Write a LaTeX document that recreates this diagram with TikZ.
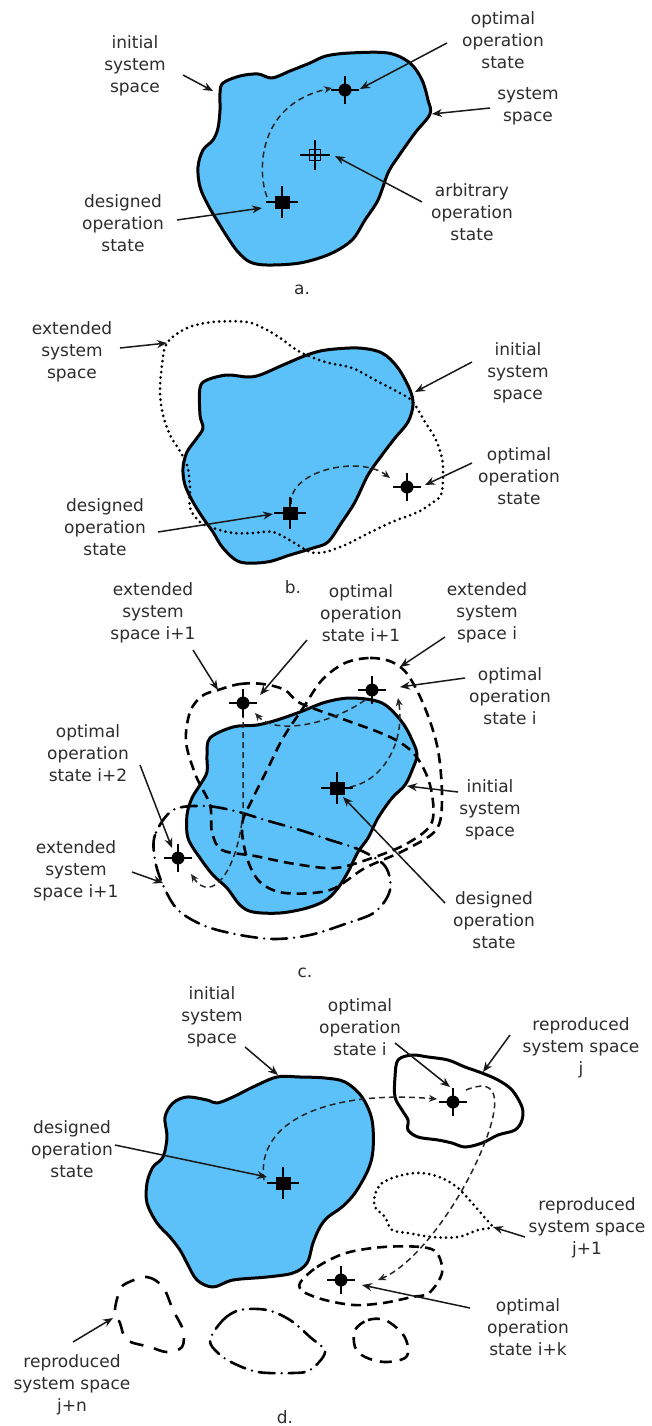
\documentclass[tikz,border=0pt]{standalone}
\usepackage{fontspec}
\setmainfont{DejaVu Sans}
\usetikzlibrary{arrows.meta}
\definecolor{skyb}{RGB}{92,193,248}
\definecolor{txtg}{RGB}{45,45,45}
\tikzset{
  blob/.style={draw=black,line width=3pt,fill=skyb,line join=round},
  lbl/.style={text=txtg,align=center,inner sep=0pt,font=\fontsize{17}{22}\selectfont},
  arr/.style={draw=black!90,line width=1.5pt,-{Stealth[length=10pt,width=8pt]}},
  trail/.style={draw=black!85,line width=1.5pt,dash pattern=on 6pt off 4pt},
  trailarr/.style={trail,-{Stealth[length=8pt,width=7pt]}},
  extd/.style={draw=black,line width=2.6pt,dash pattern=on 10pt off 6pt},
  extdot/.style={draw=black,line width=3pt,line cap=round,dash pattern=on 0pt off 5.5pt},
  extdd/.style={draw=black,line width=2.6pt,line cap=round,dash pattern=on 16pt off 7pt on 0pt off 7pt},
  solidout/.style={draw=black,line width=3pt,line join=round},
  optmark/.pic={\fill[black] (0,0) circle[radius=6.5pt]; \draw[line width=1.6pt] (-14,0)--(14,0) (0,-14)--(0,14);},
  desmark/.pic={\fill[black] (-7.5,-6.5) rectangle (7.5,6.5); \draw[line width=1.6pt] (-16,0)--(16,0) (0,-16)--(0,16);},
  arbmark/.pic={\draw[line width=1.4pt] (-5.5,-5.5) rectangle (5.5,5.5) (-15,0)--(15,0) (0,-15)--(0,15);},
}
\begin{document}
\begin{tikzpicture}[x=1pt,y=-1pt]
\useasboundingbox (0,0) rectangle (651,1426);
\fill[white] (0,0) rectangle (651,1426);

% ================= panel a =================
\path[blob] plot[smooth cycle,tension=0.55] coordinates {(223,83) (240,76) (258,74) (272,78) (290,71) (310,63) (326,56) (350,53) (388,53) (410,63) (422,80) (428,100) (430,114) (415,133) (398,157) (388,173) (378,200) (365,220) (352,240) (330,254) (300,263) (267,265) (250,262) (238,252) (228,238) (218,222) (208,205) (200,187) (198,167) (203,150) (213,140) (218,128) (220,110) (220,93)};
\coordinate (aopt) at (345,90);
\coordinate (aarb) at (315,155);
\coordinate (ades) at (282,202);
\coordinate (atrs) at (267,197);
\coordinate (atre) at (332,88);
\draw[trailarr] (atrs) .. controls (258,175) and (255,105) .. (atre);
\pic at (aopt) {optmark};
\pic at (aarb) {arbmark};
\pic at (ades) {desmark};
\node[lbl] (ainit) at (135,66) {initial\\system\\space};
\node[lbl] (aoptl) at (503,40) {optimal\\operation\\state};
\node[lbl] (asys) at (528,106) {system\\space};
\node[lbl] (aarbl) at (472,212) {arbitrary\\operation\\state};
\node[lbl] (adesl) at (123,223) {designed\\operation\\state};
\node[lbl] (acap) at (302,290) {a.};
\coordinate (a1s) at (183,75);  \coordinate (a1t) at (213,91);
\coordinate (a2s) at (447,43);  \coordinate (a2t) at (360,89);
\coordinate (a3s) at (490,108); \coordinate (a3t) at (432,114);
\coordinate (a4s) at (422,202); \coordinate (a4t) at (335,156);
\coordinate (a5s) at (177,220); \coordinate (a5t) at (262,208);
\draw[arr] (a1s) -- (a1t);
\draw[arr] (a2s) -- (a2t);
\draw[arr] (a3s) -- (a3t);
\draw[arr] (a4s) -- (a4t);
\draw[arr] (a5s) -- (a5t);

% ================= panel b =================
\path[blob] plot[smooth cycle,tension=0.55] coordinates {(207,380) (227,375) (247,377) (260,375) (283,365) (307,355) (326,350) (358,348) (382,353) (398,368) (410,390) (413,405) (408,422) (395,438) (382,455) (368,475) (355,502) (342,522) (328,542) (313,548) (290,555) (267,562) (240,562) (223,548) (213,532) (203,518) (193,502) (185,485) (183,468) (187,452) (197,438) (203,428) (200,415) (200,388)};
\draw[extdot] plot[smooth cycle,tension=0.55] coordinates {(167,343) (187,328) (213,322) (247,322) (267,330) (283,340) (300,352) (325,362) (352,368) (375,380) (407,397) (415,405) (425,422) (435,438) (442,458) (443,478) (441,495) (432,503) (418,512) (392,522) (365,535) (345,545) (325,552) (310,552) (293,542) (273,532) (253,533) (233,533) (213,528) (200,522) (190,508) (190,488) (187,465) (178,448) (170,435) (163,415) (160,392) (162,365)};
\coordinate (bdes) at (290,513);
\coordinate (bopt) at (407,487);
\coordinate (btrs) at (291,504);
\coordinate (btre) at (390,478);
\draw[trailarr] (btrs) .. controls (289,470) and (360,455) .. (btre);
\pic at (bdes) {desmark};
\pic at (bopt) {optmark};
\node[lbl] (bext) at (72,352) {extended\\system\\space};
\node[lbl] (binit) at (518,373) {initial\\system\\space};
\node[lbl] (boptl) at (519,476) {optimal\\operation\\state};
\node[lbl] (bdesl) at (105,527) {designed\\operation\\state};
\node[lbl] (bcap) at (293,587) {b.};
\coordinate (b1s) at (120,348); \coordinate (b1t) at (167,343);
\coordinate (b2s) at (472,362); \coordinate (b2t) at (415,392);
\coordinate (b3s) at (472,463); \coordinate (b3t) at (425,485);
\coordinate (b4s) at (158,532); \coordinate (b4t) at (273,514);
\draw[arr] (b1s) -- (b1t);
\draw[arr] (b2s) -- (b2t);
\draw[arr] (b3s) -- (b3t);
\draw[arr] (b4s) -- (b4t);

% ================= panel c =================
\path[blob] plot[smooth cycle,tension=0.55] coordinates {(210,738) (233,727) (257,725) (277,720) (300,712) (326,702) (352,698) (382,703) (402,722) (413,742) (417,755) (413,768) (405,785) (392,798) (378,818) (368,838) (358,852) (348,872) (338,888) (326,900) (307,908) (280,913) (253,912) (240,905) (227,888) (213,875) (200,858) (188,838) (187,815) (192,798) (200,785) (207,772) (207,755)};
\draw[extd] plot[smooth cycle,tension=0.55] coordinates {(218,690) (240,684) (263,684) (285,690) (300,703) (340,718) (390,737) (415,755) (430,785) (432,822) (408,843) (372,858) (335,868) (295,864) (255,856) (222,850) (212,832) (210,805) (196,776) (186,742) (190,712) (202,696)};
\draw[extd] plot[smooth cycle,tension=0.55] coordinates {(345,663) (370,658) (392,662) (408,675) (425,708) (438,750) (442,800) (436,830) (405,850) (365,868) (330,890) (285,893) (260,882) (247,858) (242,825) (252,800) (268,768) (283,738) (303,708) (322,680)};
\draw[extdd] plot[smooth cycle,tension=0.55] coordinates {(173,810) (155,835) (155,860) (163,885) (178,910) (205,926) (240,935) (275,939) (310,935) (345,924) (375,912) (390,890) (385,866) (360,850) (330,840) (300,830) (265,820) (235,811) (205,806)};
\coordinate (copt1) at (243,703);
\coordinate (copt0) at (372,690);
\coordinate (copt2) at (178,858);
\coordinate (cdes) at (337,788);
\coordinate (ct1s) at (350,787);  \coordinate (ct1e) at (398,698);
\coordinate (ct2s) at (365,700);  \coordinate (ct2e) at (255,713);
\coordinate (ct3s) at (243,712);  \coordinate (ct3m) at (243,812); \coordinate (ct3e) at (191,874);
\draw[trailarr] (ct1s) .. controls (385,780) and (405,740) .. (ct1e);
\draw[trailarr] (ct2s) .. controls (330,725) and (275,735) .. (ct2e);
\draw[trailarr] (ct3s) -- (ct3m) .. controls (238,870) and (212,905) .. (ct3e);
\pic at (copt1) {optmark};
\pic at (copt0) {optmark};
\pic at (copt2) {optmark};
\pic at (cdes) {desmark};
\node[lbl] (cext1) at (153,613) {extended\\system\\space i+1};
\node[lbl] (copt1l) at (361,613) {optimal\\operation\\state i+1};
\node[lbl] (cext0) at (487,613) {extended\\system\\space i};
\node[lbl] (copt0l) at (510,696) {optimal\\operation\\state i};
\node[lbl] (copt2l) at (88,753) {optimal\\operation\\state i+2};
\node[lbl] (cinit) at (490,810) {initial\\system\\space};
\node[lbl] (cext2) at (76,871) {extended\\system\\space i+1};
\node[lbl] (cdesl) at (494,920) {designed\\operation\\state};
\node[lbl] (ccap) at (305,973) {c.};
\coordinate (c1s) at (193,650); \coordinate (c1t) at (218,690);
\coordinate (c2s) at (307,640); \coordinate (c2t) at (260,695);
\coordinate (c3s) at (445,637); \coordinate (c3t) at (400,667);
\coordinate (c4s) at (465,678); \coordinate (c4t) at (400,687);
\coordinate (c5s) at (458,792); \coordinate (c5t) at (407,786);
\coordinate (c6s) at (445,903); \coordinate (c6t) at (343,797);
\coordinate (c7s) at (140,765); \coordinate (c7t) at (172,848);
\coordinate (c8s) at (132,872); \coordinate (c8t) at (163,883);
\draw[arr] (c1s) -- (c1t);
\draw[arr] (c2s) -- (c2t);
\draw[arr] (c3s) -- (c3t);
\draw[arr] (c4s) -- (c4t);
\draw[arr] (c5s) -- (c5t);
\draw[arr] (c6s) -- (c6t);
\draw[arr] (c7s) -- (c7t);
\draw[arr] (c8s) -- (c8t);

% ================= panel d =================
\path[blob] plot[smooth cycle,tension=0.55] coordinates {(277,1077) (300,1077) (325,1078) (345,1082) (362,1097) (372,1120) (373,1150) (368,1170) (355,1193) (342,1207) (328,1217) (320,1227) (313,1243) (307,1263) (293,1273) (267,1277) (233,1280) (213,1287) (197,1280) (187,1263) (180,1250) (170,1237) (157,1223) (147,1203) (147,1183) (153,1167) (163,1157) (167,1137) (165,1117) (173,1103) (187,1097) (207,1100) (217,1103) (233,1097) (253,1087)};
\draw[solidout] plot[smooth cycle,tension=0.55] coordinates {(398,1060) (412,1055) (428,1057) (448,1060) (465,1067) (482,1073) (498,1080) (512,1090) (522,1107) (522,1120) (515,1130) (498,1135) (482,1143) (465,1147) (452,1143) (438,1140) (418,1137) (408,1130) (408,1120) (402,1110) (395,1097) (395,1077)};
\draw[extdot] plot[smooth cycle,tension=0.55] coordinates {(382,1183) (402,1175) (422,1173) (442,1178) (458,1188) (472,1203) (485,1218) (492,1227) (478,1230) (458,1237) (432,1237) (408,1233) (392,1230) (385,1217) (375,1207) (375,1195)};
\draw[extd] plot[smooth cycle,tension=0.55] coordinates {(300,1283) (317,1267) (346,1253) (383,1247) (421,1247) (437,1253) (442,1273) (429,1293) (412,1297) (383,1303) (354,1305) (325,1300) (304,1292)};
\draw[extd,dash pattern=on 14pt off 11pt] plot[smooth cycle,tension=0.55] coordinates {(127,1283) (147,1277) (163,1287) (173,1310) (183,1330) (182,1347) (167,1352) (150,1347) (127,1340) (120,1323) (115,1310) (120,1290)};
\draw[extdd] plot[smooth cycle,tension=0.55] coordinates {(210,1340) (223,1320) (240,1310) (267,1310) (290,1320) (310,1337) (325,1352) (310,1370) (292,1373) (258,1372) (233,1363) (218,1353)};
\draw[extd,dash pattern=on 12pt off 8pt] plot[smooth cycle,tension=0.55] coordinates {(355,1330) (368,1320) (385,1320) (402,1333) (408,1347) (405,1358) (385,1362) (365,1357) (355,1347)};
\coordinate (ddes) at (283,1183);
\coordinate (dopt0) at (453,1102);
\coordinate (doptk) at (341,1280);
\coordinate (dt1s) at (264,1180); \coordinate (dt1e) at (437,1099);
\coordinate (dt2s) at (466,1090); \coordinate (dt2m) at (490,1128); \coordinate (dt2e) at (378,1280);
\draw[trailarr] (dt1s) .. controls (255,1120) and (330,1090) .. (dt1e);
\draw[trailarr] (dt2s) .. controls (495,1078) and (500,1095) .. (dt2m) .. controls (470,1190) and (420,1262) .. (dt2e);
\pic at (ddes) {desmark};
\pic at (dopt0) {optmark};
\pic at (doptk) {optmark};
\node[lbl] (dinit) at (212,1017) {initial\\system\\space};
\node[lbl] (dopt0l) at (360,1027) {optimal\\operation\\state i};
\node[lbl] (drepj) at (581,1048) {reproduced\\system space\\j};
\node[lbl] (ddesl) at (72,1149) {designed\\operation\\state};
\node[lbl] (drepj1) at (587,1228) {reproduced\\system space\\j+1};
\node[lbl] (doptkl) at (528,1327) {optimal\\operation\\state i+k};
\node[lbl] (drepjn) at (72,1385) {reproduced\\system space\\j+n};
\node[lbl] (dcap) at (285,1417) {d.};
\coordinate (d1s) at (245,1047); \coordinate (d1t) at (278,1075);
\coordinate (d2s) at (395,1043); \coordinate (d2t) at (450,1087);
\coordinate (d3s) at (510,1035); \coordinate (d3t) at (483,1072);
\coordinate (d4s) at (115,1145); \coordinate (d4t) at (267,1177);
\coordinate (d5s) at (525,1237); \coordinate (d5t) at (493,1227);
\coordinate (d6s) at (470,1308); \coordinate (d6t) at (362,1285);
\coordinate (d7s) at (73,1342);  \coordinate (d7t) at (113,1318);
\draw[arr] (d1s) -- (d1t);
\draw[arr] (d2s) -- (d2t);
\draw[arr] (d3s) -- (d3t);
\draw[arr] (d4s) -- (d4t);
\draw[arr] (d5s) -- (d5t);
\draw[arr] (d6s) -- (d6t);
\draw[arr] (d7s) -- (d7t);
\end{tikzpicture}
\end{document}
